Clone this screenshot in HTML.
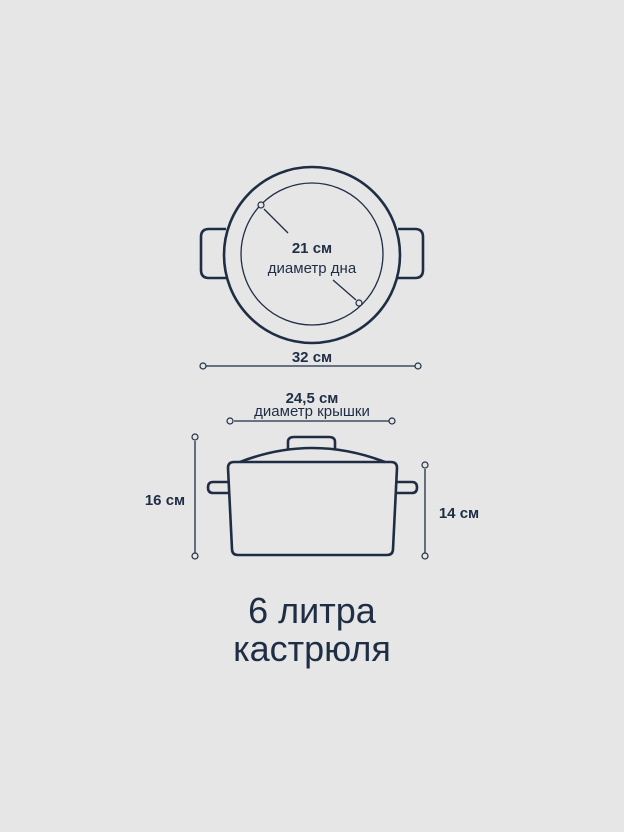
<!DOCTYPE html>
<html><head><meta charset="utf-8"><style>
html,body{margin:0;padding:0;background:#e6e6e6;}
svg{display:block}
text{font-family:"Liberation Sans","DejaVu Sans",sans-serif;fill:#1f2d45}
</style></head><body>
<svg width="624" height="832" viewBox="0 0 624 832" xmlns="http://www.w3.org/2000/svg">
<rect width="624" height="832" fill="#e6e6e6"/>
<g fill="none" stroke="#1f2d45" stroke-width="2.6" stroke-linejoin="round">
  <path d="M226 229 H209 Q201 229 201 237 V270 Q201 278 209 278 H226"/>
  <path d="M398 229 H415 Q423 229 423 237 V270 Q423 278 415 278 H398"/>
  <circle cx="312" cy="255" r="88" fill="#e6e6e6"/>
</g>
<g fill="none" stroke="#1f2d45" stroke-width="1.3">
  <circle cx="312" cy="254" r="71"/>
  <line x1="264" y1="209" x2="288" y2="233"/>
  <line x1="333" y1="280" x2="356" y2="300"/>
  <line x1="206" y1="366" x2="415" y2="366"/>
  <line x1="234" y1="421" x2="389" y2="421"/>
  <line x1="195" y1="441" x2="195" y2="553"/>
  <line x1="425" y1="469" x2="425" y2="553"/>
</g>
<g fill="#e6e6e6" stroke="#1f2d45" stroke-width="1.2">
  <circle cx="261" cy="205" r="3"/>
  <circle cx="359" cy="303" r="3"/>
  <circle cx="203" cy="366" r="3"/>
  <circle cx="418" cy="366" r="3"/>
  <circle cx="230" cy="421" r="3"/>
  <circle cx="392" cy="421" r="3"/>
  <circle cx="195" cy="437" r="3"/>
  <circle cx="195" cy="556" r="3"/>
  <circle cx="425" cy="465" r="3"/>
  <circle cx="425" cy="556" r="3"/>
</g>
<g fill="none" stroke="#1f2d45" stroke-width="2.6" stroke-linejoin="round">
  <path d="M288 449 V442 Q288 437 294 437 H329 Q335 437 335 442 V449"/>
  <path d="M240 462 Q312 434 385 462"/>
  <path d="M228 482 H213 Q208 482 208 487.5 Q208 493 213 493 H229"/>
  <path d="M397 482 H412 Q417 482 417 487.5 Q417 493 412 493 H396"/>
  <path d="M234 462 H391 Q397 462 397 468 L393 549 Q393 555 387 555 H238 Q232 555 232 549 L228 468 Q228 462 234 462 Z"/>
</g>
<text x="312" y="253" font-size="15" font-weight="bold" text-anchor="middle">21 см</text>
<text x="312" y="273" font-size="15" text-anchor="middle">диаметр дна</text>
<text x="312" y="362" font-size="15" font-weight="bold" text-anchor="middle">32 см</text>
<text x="312" y="403" font-size="15" font-weight="bold" text-anchor="middle">24,5 см</text>
<text x="312" y="416" font-size="15" text-anchor="middle">диаметр крышки</text>
<text x="165" y="505" font-size="15" font-weight="bold" text-anchor="middle">16 см</text>
<text x="459" y="518" font-size="15" font-weight="bold" text-anchor="middle">14 см</text>
<text x="312" y="623" font-size="36" text-anchor="middle">6 литра</text>
<text x="312" y="661" font-size="36" text-anchor="middle">кастрюля</text>
</svg>
</body></html>
